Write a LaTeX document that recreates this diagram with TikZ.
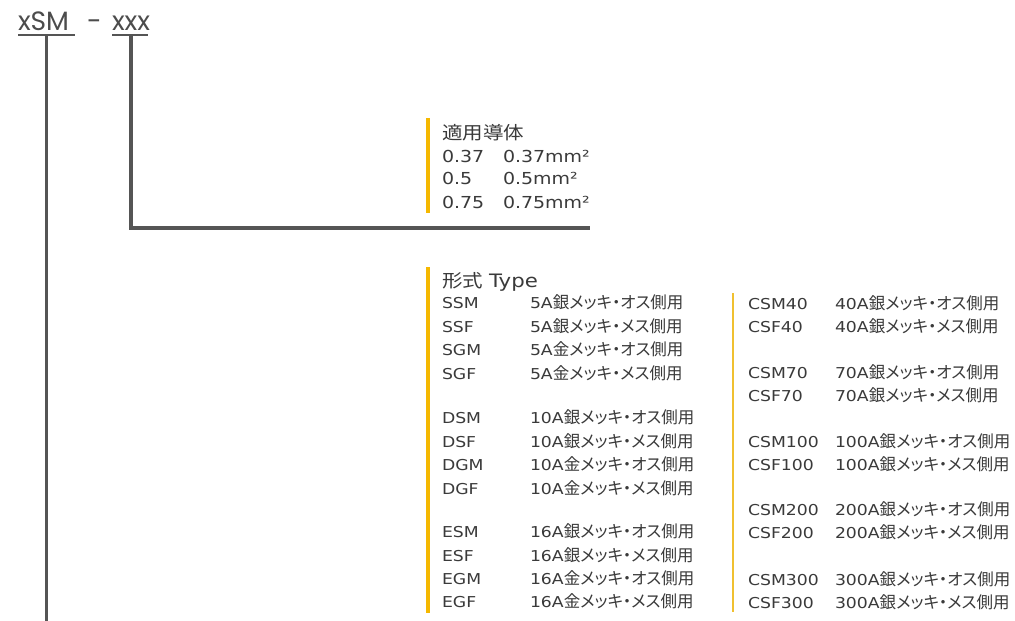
\documentclass[tikz,border=0pt]{standalone}
\usepackage{fontspec}
\setmainfont{DejaVu Sans}[FakeStretch=1.15]
\newfontfamily\jp{Noto Sans CJK JP}[RawFeature=+palt]
\newfontfamily\jph{Noto Sans CJK JP}[FakeStretch=1.14]
\newfontfamily\geo{Poppins}
\definecolor{txt}{HTML}{3A3A3A}
\definecolor{linegray}{HTML}{555555}
\definecolor{ybar}{HTML}{F5B800}
\definecolor{ybarb}{HTML}{F0C030}
\begin{document}
\begin{tikzpicture}[x=1pt,y=-1pt,
  every node/.style={inner sep=0pt,outer sep=0pt,text=txt,anchor=base west},
  rowtxt/.style={font=\fontsize{15}{18}\selectfont},
  headtxt/.style={font=\fontsize{16.5}{20}\selectfont},
  toptxt/.style={font=\geo\fontsize{26.5}{30}\selectfont,text=linegray!90!black},
  conn/.style={draw=linegray,line width=3.3pt},
  uline/.style={draw=linegray,line width=2pt},
  barA/.style={draw=ybar,line width=4pt},
  barB/.style={draw=ybarb,line width=2.2pt}]
\useasboundingbox[fill=white] (0,0) rectangle (1015,621);

% top code
\node[toptxt] (xsm) at (18,30) {xSM};
\node[toptxt] (dash) at (87,30) {-};
\node[toptxt] (xxx) at (112,30) {xxx};
\coordinate (u1l) at (18,35);
\coordinate (u1r) at (75,35);
\coordinate (u2l) at (112,35);
\coordinate (u2r) at (148,35);
\draw[uline] (u1l) -- (u1r);
\draw[uline] (u2l) -- (u2r);

% connectors
\coordinate (u1m) at (46.7,35);
\coordinate (bot1) at (46.7,621);
\coordinate (u2m) at (131,35);
\coordinate (corner2) at (131,228);
\coordinate (end2) at (590,228);
\draw[conn] (u1m) -- (bot1);
\draw[conn] (u2m) -- (corner2) -- (end2);

% block 1: conductor
\coordinate (bA1) at (428,118);
\coordinate (bA2) at (428,213);
\draw[barA] (bA1) -- (bA2);
\node[font=\jph\fontsize{18}{22}\selectfont] (h1) at (442,139) {適用導体};
\node[headtxt] (c1a) at (442,162) {0.37};
\node[headtxt] (c1b) at (503,162) {0.37mm²};
\node[headtxt] (c2a) at (442,184) {0.5};
\node[headtxt] (c2b) at (503,184) {0.5mm²};
\node[headtxt] (c3a) at (442,208) {0.75};
\node[headtxt] (c3b) at (503,208) {0.75mm²};

% block 2: type
\coordinate (bB1) at (428,267);
\coordinate (bB2) at (428,613);
\draw[barA] (bB1) -- (bB2);
\coordinate (bC1) at (733,293);
\coordinate (bC2) at (733,612);
\draw[barB] (bC1) -- (bC2);
\node (h2) at (442,287) {{\jph\fontsize{18}{22}\selectfont 形式}\hspace{6pt}{\fontsize{18.5}{22}\selectfont Type}};

\foreach \i/\y/\code/\amp/\desc in {
  1/303/SSM/5A/銀メッキ・オス側用,
  2/327/SSF/5A/銀メッキ・メス側用,
  3/350/SGM/5A/金メッキ・オス側用,
  4/374/SGF/5A/金メッキ・メス側用,
  5/418/DSM/10A/銀メッキ・オス側用,
  6/442/DSF/10A/銀メッキ・メス側用,
  7/465/DGM/10A/金メッキ・オス側用,
  8/489/DGF/10A/金メッキ・メス側用,
  9/532/ESM/16A/銀メッキ・オス側用,
  10/556/ESF/16A/銀メッキ・メス側用,
  11/579/EGM/16A/金メッキ・オス側用,
  12/602/EGF/16A/金メッキ・メス側用}{
  \node[rowtxt] (lc\i) at (442,\y+5.5) {\code};
  \node[rowtxt] (ld\i) at (530,\y+5.5) {\amp{\jp\fontsize{16.5}{18}\selectfont\desc}};
}
\foreach \i/\y/\code/\amp/\desc in {
  1/304/CSM40/40A/銀メッキ・オス側用,
  2/327/CSF40/40A/銀メッキ・メス側用,
  3/373/CSM70/70A/銀メッキ・オス側用,
  4/396/CSF70/70A/銀メッキ・メス側用,
  5/442/CSM100/100A/銀メッキ・オス側用,
  6/465/CSF100/100A/銀メッキ・メス側用,
  7/510/CSM200/200A/銀メッキ・オス側用,
  8/533/CSF200/200A/銀メッキ・メス側用,
  9/580/CSM300/300A/銀メッキ・オス側用,
  10/603/CSF300/300A/銀メッキ・メス側用}{
  \node[rowtxt] (rc\i) at (748,\y+5.5) {\code};
  \node[rowtxt] (rd\i) at (835,\y+5.5) {\amp{\jp\fontsize{16.5}{18}\selectfont\desc}};
}
\end{tikzpicture}
\end{document}
